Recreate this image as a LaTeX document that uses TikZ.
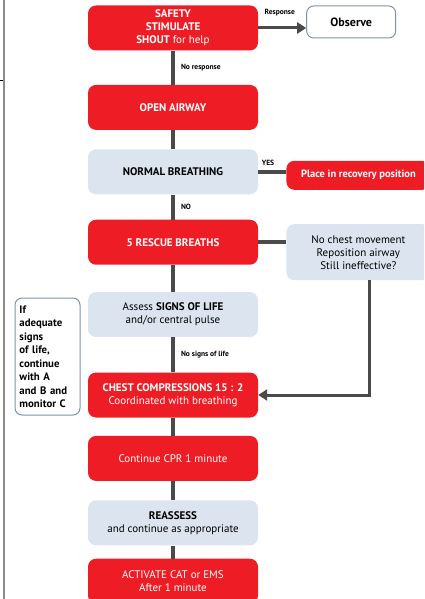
\documentclass[tikz,border=0pt]{standalone}
\usepackage{fontspec}
\setmainfont{PT Sans}
\usetikzlibrary{arrows.meta,positioning}
\definecolor{cprred}{HTML}{EE1D25}
\definecolor{cprblue}{HTML}{DCE5EF}
\definecolor{cprline}{HTML}{4A4A4A}
\definecolor{cpredge}{HTML}{7E93AB}

\begin{document}
\begin{tikzpicture}[x=1pt, y=1pt,
    redbox/.style={fill=cprred, text=white, rounded corners=8pt, align=center, font=\fontsize{11}{13}\selectfont, minimum width=170pt, minimum height=45pt, inner sep=0pt},
    bluebox/.style={redbox, fill=cprblue, text=black},
    outbox/.style={draw=cpredge, line width=1pt, fill=white, rounded corners=7pt, inner sep=0pt},
    link/.style={draw=cprline, line width=4pt},
    arr/.style={draw=cprline, line width=3pt, -{Triangle[length=9pt,width=11pt]}},
    lbl/.style={font=\fontsize{7.5}{8}\selectfont\bfseries, inner sep=1pt}
]
\useasboundingbox (0,0) rectangle (424,-599);
\clip (0,0) rectangle (424,-599);
% page edge
\draw[gray!90, line width=2pt] (3.5,0) -- (3.5,-599);
\draw[line width=0.8pt] (0,-80) -- (3,-80);
% main column
\node[redbox] (safety) at (173,-28) {\textbf{SAFETY}\\ \textbf{STIMULATE}\\ \textbf{SHOUT} for help};
\node[redbox, below=34pt of safety] (airway) {\textbf{OPEN AIRWAY}};
\node[bluebox, below=19pt of airway] (breathing) {\textbf{NORMAL BREATHING}};
\node[redbox, below=25pt of breathing] (rescue) {\textbf{5 RESCUE BREATHS}};
\node[bluebox, below=27pt of rescue] (signs) {Assess \textbf{SIGNS OF LIFE}\\ and/or central pulse};
\node[redbox, below=35pt of signs] (chest) {\textbf{CHEST COMPRESSIONS 15 : 2}\\ Coordinated with breathing};
\node[redbox, below=18pt of chest] (cpr) {Continue CPR 1 minute};
\node[bluebox, below=19pt of cpr] (reassess) {\textbf{REASSESS}\\ and continue as appropriate};
\node[redbox, below=13pt of reassess] (activate) {ACTIVATE CAT or EMS\\ After 1 minute};
% side boxes
\node[outbox, right=48pt of safety, yshift=6pt, minimum width=89pt, minimum height=32pt, font=\fontsize{12}{13}\selectfont\bfseries] (observe) {Observe};
\node[redbox, right=28pt of breathing, yshift=-3.5pt, minimum width=144pt, minimum height=29pt, font=\fontsize{10.5}{12}\selectfont\bfseries] (recovery) {Place in recovery position};
\node[bluebox, right=28pt of rescue, yshift=-10pt, minimum width=144pt, minimum height=56pt] (nochest) {No chest movement\\ Reposition airway\\ Still ineffective?};
\node[outbox, minimum width=65pt, minimum height=117pt, text width=56pt, align=left, font=\fontsize{10.8}{13.5}\selectfont\bfseries] (note) at (47.5,-356.5) {If\\ adequate\\ signs\\ of life,\\ continue\\ with A\\ and B and\\ monitor C};
% connectors
\draw[arr] (safety.east) -- (safety.east -| observe.west) node[lbl, pos=0.45, above=9pt] (lresp) {Response};
\draw[link] (safety) -- (airway) node[lbl, midway, right=5pt] (lnoresp) {No response};
\draw[link] (airway) -- (breathing);
\draw[link] (breathing.east) -- (breathing.east -| recovery.west) node[lbl, pos=0.35, above=3pt] (lyes) {YES};
\draw[link] (breathing) -- (rescue) node[lbl, midway, right=5pt] (lno) {NO};
\draw[link] (rescue.east) -- (rescue.east -| nochest.west);
\draw[link] (rescue) -- (signs);
\draw[link] (signs) -- (chest) node[lbl, midway, right=5pt] (lnosigns) {No signs of life};
\draw[arr] ([xshift=11pt]nochest.south) |- (chest.east);
\draw[link] (chest) -- (cpr);
\draw[link] (cpr) -- (reassess);
\draw[link] (reassess) -- (activate);
\end{tikzpicture}
\end{document}
